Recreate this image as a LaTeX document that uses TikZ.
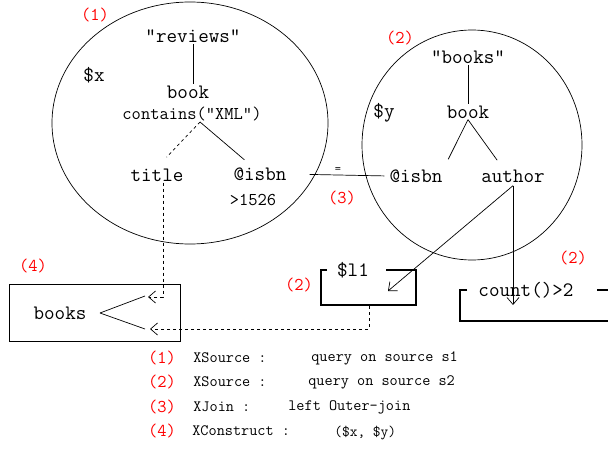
\documentclass[tikz,border=0pt]{standalone}
\usepackage{fontspec}
\usetikzlibrary{arrows.meta}

\begin{document}
\begin{tikzpicture}[x=1pt, y=-1pt, line width=0.7pt]
    \tikzstyle{tt} = [font=\ttfamily\fontsize{20.5}{22}\selectfont, inner sep=1pt]
    \tikzstyle{ttsmall} = [font=\ttfamily\fontsize{18}{20}\selectfont, inner sep=1pt]
    \tikzstyle{num} = [font=\ttfamily\fontsize{18}{20}\selectfont, text=red, inner sep=0pt]
    \tikzstyle{legend} = [font=\ttfamily\fontsize{15.8}{17}\selectfont, anchor=west, inner sep=0pt]
    \tikzstyle{thickbox} = [line width=2.6pt]
    \tikzstyle{open} = [-{Straight Barb[length=7pt, width=12pt]}]
    \useasboundingbox (0,0) rectangle (608,449);

    % source s1
    \draw (190,123) ellipse [x radius=138pt, y radius=121pt];
    \node[num] (n1) at (95,15) {(1)};
    \node[tt] (reviews) at (193,36) {"reviews"};
    \node[tt] (varx) at (94,75) {\$x};
    \node[tt] (bookx) at (188,92) {book};
    \node[ttsmall] (contains) at (192,114) {contains("XML")};
    \coordinate (forkx) at (200,122);
    \node[tt] (title) at (157,175) {title};
    \node[tt] (isbnx) at (260,174) {@isbn};
    \node[ttsmall] (cond) at (253,200) {>1526};
    \draw (reviews.south) -- (reviews.south |- bookx.north);
    \draw[dashed, shorten >=14pt] (forkx) -- (title.north);
    \draw[shorten >=10pt] (forkx) -- ([xshift=-8pt]isbnx.north);

    % source s2
    \draw (472,145) ellipse [x radius=110pt, y radius=115pt];
    \node[num] (n2) at (400,38) {(2)};
    \node[tt] (books) at (468,57) {"books"};
    \node[tt] (vary) at (384,113) {\$y};
    \node[tt] (booky) at (468,112) {book};
    \node[tt] (isbny) at (416,176) {@isbn};
    \node[tt] (author) at (513,176) {author};
    \draw (books.south) -- (booky.north);
    \draw[shorten >=10pt] (booky.south) -- (isbny.north east);
    \draw[shorten >=10pt] (booky.south) -- ([xshift=-10pt]author.north);

    % join
    \draw[shorten <=22pt, shorten >=4pt] (isbnx.east) -- node[above, font=\ttfamily\fontsize{12}{13}\selectfont, inner sep=2pt] {=} (isbny.west);
    \node[num] (n3) at (342,198) {(3)};

    % $l1 result
    \node[tt] (l1) at (353,270) {\$l1};
    \node[num] (n2b) at (299,285) {(2)};
    \draw[thickbox] (327,270) -- (321,270) -- (321,305) -- (416,305) -- (416,270) -- (386,270);
    \coordinate (l1in) at (388,291);
    \draw[open] (author.south) ++(0,2) -- (l1in);

    % count filter
    \node[tt] (count) at (526,290) {count()>2};
    \node[num] (n2c) at (573,258) {(2)};
    \draw[thickbox] (467,290) -- (460,290) -- (460,321) -- (608,321);
    \draw[thickbox] (597,290) -- (608,290);
    \coordinate (countin) at (513,305);
    \draw[open] (author.south) ++(0,2) -- (countin);

    % construct
    \node[draw, minimum width=171pt, minimum height=57pt] (construct) at (94.5,312.5) {};
    \node[tt] (booksout) at (60,313) {books};
    \node[num] (n4) at (33,266) {(4)};
    \coordinate (fork4) at (100,313);
    \coordinate (in1) at (148,297);
    \coordinate (in2) at (150,329);
    \draw (fork4) -- (145,296);
    \draw (fork4) -- (145,329);
    \draw[dashed, open] ([xshift=6pt]title.south) -- ([xshift=6pt]title.south |- in1) -- (in1);
    \draw[dashed, open] (369,306) -- (369,329) -- (in2);

    % legend
    \node[num] (l1num) at (162,358) {(1)};
    \node[legend] (l1op) at (193,358) {XSource :};
    \node[legend] (l1txt) at (311,358) {query on source s1};
    \node[num] (l2num) at (162,382) {(2)};
    \node[legend] (l2op) at (193,382) {XSource :};
    \node[legend] (l2txt) at (308,382) {query on source s2};
    \node[num] (l3num) at (162,407) {(3)};
    \node[legend] (l3op) at (193,407) {XJoin :};
    \node[legend] (l3txt) at (288,407) {left Outer-join};
    \node[num] (l4num) at (162,431) {(4)};
    \node[legend] (l4op) at (192,431) {XConstruct :};
    \node[legend, font=\ttfamily\fontsize{15}{16}\selectfont] (l4txt) at (334,433) {(\$x, \$y)};
\end{tikzpicture}
\end{document}
